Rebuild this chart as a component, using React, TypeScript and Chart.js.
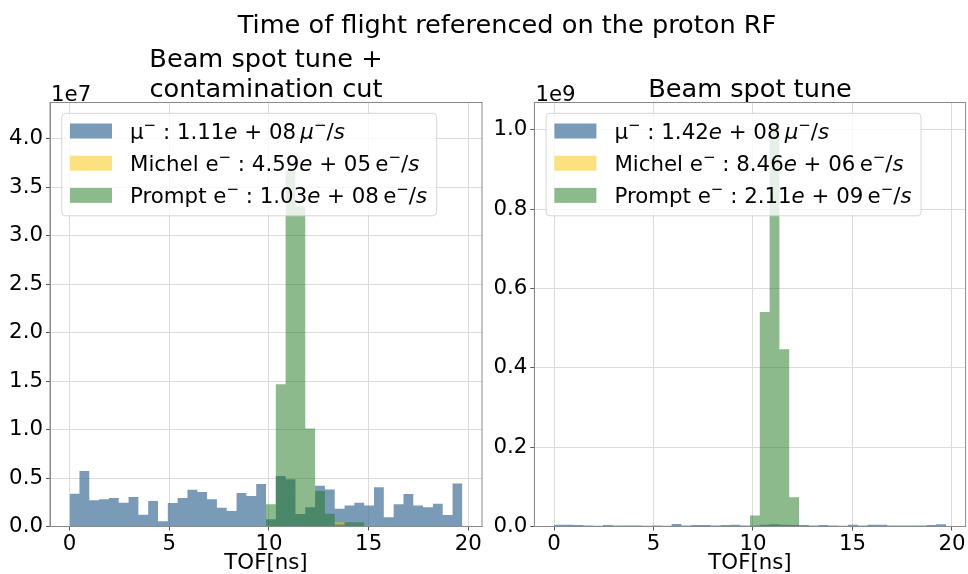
import React, { useEffect, useRef } from 'react';
import { Chart, registerables } from 'chart.js';

Chart.register(...registerables);

const FONT = "'DejaVu Sans', sans-serif";
const FS = 21.33;
const TFS = 25.6;

// ---- data ----
const BIN_START = 0;
const BIN_WIDTH = 0.4925; // ns
const N_BINS = 40;
const binEdges: number[] = Array.from({ length: N_BINS + 1 }, (_, i) => +(BIN_START + i * BIN_WIDTH).toFixed(4));

const xTicks = [0, 5, 10, 15, 20];
const leftYTicks = [0, 0.5, 1.0, 1.5, 2.0, 2.5, 3.0, 3.5, 4.0];
const rightYTicks = [0, 0.2, 0.4, 0.6, 0.8, 1.0];

// left panel, counts in units of 1e7
const leftMuon = [
  0.338, 0.572, 0.270, 0.280, 0.294, 0.245, 0.304, 0.122, 0.263, 0.053,
  0.242, 0.294, 0.380, 0.356, 0.280, 0.194, 0.160, 0.345, 0.314, 0.438,
  0.074, 0.520, 0.487, 0.129, 0.198, 0.420, 0.383, 0.184, 0.218, 0.245,
  0.218, 0.404, 0.095, 0.229, 0.335, 0.218, 0.198, 0.235, 0.119, 0.445,
];
const leftMichel = [
  0, 0, 0, 0, 0, 0, 0, 0, 0, 0,
  0, 0, 0, 0, 0, 0, 0, 0, 0, 0,
  0, 0, 0, 0, 0, 0, 0, 0.045, 0, 0,
  0, 0, 0, 0, 0, 0, 0, 0, 0, 0,
];
const leftPrompt = [
  0, 0, 0, 0, 0, 0, 0, 0, 0, 0,
  0, 0, 0, 0, 0, 0, 0, 0, 0, 0,
  0.229, 1.469, 3.675, 3.310, 1.012, 0.366, 0.132, 0.020, 0.043, 0.043,
  0, 0, 0, 0, 0, 0, 0, 0, 0, 0,
];

// right panel, counts in units of 1e9
const rightMuon = [
  0.0045, 0.0045, 0.0040, 0.0028, 0.0022, 0.0040, 0.0027, 0.0027, 0.0027, 0.0018,
  0.0027, 0.0022, 0.0065, 0.0027, 0.0040, 0.0040, 0.0027, 0.0040, 0.0045, 0.0027,
  0.0027, 0.0045, 0.0054, 0.0045, 0.0036, 0.0036, 0.0027, 0.0036, 0.0027, 0.0018,
  0.0045, 0.0027, 0.0045, 0.0045, 0.0027, 0.0027, 0.0027, 0.0027, 0.0036, 0.0054,
];
const rightMichel = [
  0, 0, 0, 0, 0.0008, 0.0008, 0.0008, 0.0008, 0.0008, 0.0008,
  0, 0, 0, 0, 0, 0, 0, 0, 0, 0,
  0, 0, 0, 0, 0, 0, 0, 0, 0, 0,
  0.0004, 0.0004, 0.0004, 0.0004, 0.0004, 0.0004, 0.0004, 0.0004, 0.0004, 0,
];
const rightPrompt = [
  0, 0, 0, 0, 0, 0, 0, 0, 0, 0,
  0, 0, 0, 0, 0, 0, 0, 0, 0, 0,
  0.028, 0.541, 1.013, 0.447, 0.074, 0.002, 0.001, 0.0005, 0, 0,
  0, 0, 0, 0, 0, 0, 0, 0, 0, 0,
];

const mainTitle = 'Time of flight referenced on the proton RF';
const leftTitle = ['Beam spot tune +', 'contamination cut'];
const rightTitle = ['Beam spot tune'];
const leftExponent = '1e7';
const rightExponent = '1e9';
const xTitle = 'TOF[ns]';

type Seg = { t: string; it?: boolean; sup?: boolean };

const leftLegend: Seg[][] = [
  [{ t: 'μ' }, { t: '−', sup: true }, { t: ' : 1.11' }, { t: 'e', it: true }, { t: ' + 08\u2009' }, { t: 'μ', it: true }, { t: '−', sup: true }, { t: '/' }, { t: 's', it: true }],
  [{ t: 'Michel e' }, { t: '−', sup: true }, { t: ' : 4.59' }, { t: 'e', it: true }, { t: ' + 05\u2009e' }, { t: '−', sup: true }, { t: '/' }, { t: 's', it: true }],
  [{ t: 'Prompt e' }, { t: '−', sup: true }, { t: ' : 1.03' }, { t: 'e', it: true }, { t: ' + 08\u2009e' }, { t: '−', sup: true }, { t: '/' }, { t: 's', it: true }],
];
const rightLegend: Seg[][] = [
  [{ t: 'μ' }, { t: '−', sup: true }, { t: ' : 1.42' }, { t: 'e', it: true }, { t: ' + 08\u2009' }, { t: 'μ', it: true }, { t: '−', sup: true }, { t: '/' }, { t: 's', it: true }],
  [{ t: 'Michel e' }, { t: '−', sup: true }, { t: ' : 8.46' }, { t: 'e', it: true }, { t: ' + 06\u2009e' }, { t: '−', sup: true }, { t: '/' }, { t: 's', it: true }],
  [{ t: 'Prompt e' }, { t: '−', sup: true }, { t: ' : 2.11' }, { t: 'e', it: true }, { t: ' + 09\u2009e' }, { t: '−', sup: true }, { t: '/' }, { t: 's', it: true }],
];

const COLORS = {
  muon: 'rgba(66,112,153,0.7)',
  michel: 'rgba(250,196,0,0.5)',
  prompt: 'rgba(28,118,28,0.5)',
};

function histPoints(values: number[]) {
  const pts = values.map((v, i) => ({ x: binEdges[i], y: v }));
  pts.push({ x: binEdges[N_BINS], y: 0 });
  return pts;
}

function drawSegs(ctx: CanvasRenderingContext2D, segs: Seg[], x: number, baseline: number, draw: boolean) {
  let cx = x;
  for (const s of segs) {
    ctx.font = `${s.it ? 'italic ' : ''}${s.sup ? 15 : FS}px ${FONT}`;
    const y = s.sup ? baseline - 8.5 : baseline;
    if (draw) ctx.fillText(s.t, cx, y);
    cx += ctx.measureText(s.t).width;
  }
  return cx - x;
}

type DecorOpts = {
  title: string[];
  titleBaselines: number[];
  exponent: string;
  legend: Seg[][];
  main?: boolean;
};

function makeDecor(o: DecorOpts) {
  return {
    id: 'decor',
    afterDraw(chart: any) {
      const { ctx, chartArea: a } = chart;
      ctx.save();
      // frame
      ctx.strokeStyle = '#8a8a8a';
      ctx.lineWidth = 1;
      ctx.strokeRect(a.left, a.top, a.right - a.left, a.bottom - a.top);
      ctx.fillStyle = '#000';
      ctx.textBaseline = 'alphabetic';
      // exponent
      ctx.textAlign = 'left';
      ctx.font = `${FS}px ${FONT}`;
      ctx.fillText(o.exponent, a.left + 1, a.top - 2);
      // titles
      ctx.textAlign = 'center';
      ctx.font = `${TFS}px ${FONT}`;
      const cx = (a.left + a.right) / 2;
      o.title.forEach((line, i) => ctx.fillText(line, cx, o.titleBaselines[i]));
      if (o.main) {
        ctx.fillText(mainTitle, 507, 33);
      }
      // legend
      ctx.textAlign = 'left';
      const textX = a.left + 80;
      let maxW = 0;
      o.legend.forEach((segs) => {
        maxW = Math.max(maxW, drawSegs(ctx, segs, 0, 0, false));
      });
      const bx = a.left + 11.7;
      const by = a.top + 10.8;
      const bw = textX + maxW + 9.5 - bx;
      const bh = 102.5;
      ctx.beginPath();
      if ((ctx as any).roundRect) (ctx as any).roundRect(bx, by, bw, bh, 4);
      else ctx.rect(bx, by, bw, bh);
      ctx.fillStyle = 'rgba(255,255,255,0.8)';
      ctx.fill();
      ctx.strokeStyle = 'rgba(204,204,204,0.8)';
      ctx.lineWidth = 1;
      ctx.stroke();
      const cols = [COLORS.muon, COLORS.michel, COLORS.prompt];
      o.legend.forEach((segs, i) => {
        const cy = a.top + 28.5 + i * 32.2;
        ctx.fillStyle = cols[i];
        ctx.fillRect(a.left + 20, cy - 7.5, 42, 15);
        ctx.fillStyle = '#000';
        drawSegs(ctx, segs, textX, cy + 7.5, true);
      });
      ctx.restore();
    },
  };
}

function makeConfig(
  muon: number[], michel: number[], prompt: number[], yTicks: number[], yMax: number,
  padding: any, yWidth: number, decor: any
): any {
  const ds = (values: number[], color: string, order: number) => ({
    data: histPoints(values),
    stepped: true,
    fill: 'origin',
    backgroundColor: color,
    borderColor: 'rgba(0,0,0,0)',
    borderWidth: 0,
    pointRadius: 0,
    pointHoverRadius: 0,
    order,
  });
  return {
    type: 'line',
    data: {
      datasets: [
        ds(muon, COLORS.muon, 3),
        ds(michel, COLORS.michel, 2),
        ds(prompt, COLORS.prompt, 1),
      ],
    },
    options: {
      animation: false,
      responsive: false,
      devicePixelRatio: 1,
      events: [],
      layout: { padding },
      plugins: { legend: { display: false }, title: { display: false }, tooltip: { enabled: false } },
      scales: {
        x: {
          type: 'linear',
          min: -0.985,
          max: 20.685,
          afterBuildTicks: (s: any) => { s.ticks = xTicks.map((v) => ({ value: v })); },
          afterFit: (s: any) => { s.height = 47.5; },
          ticks: {
            autoSkip: false, maxRotation: 0, color: '#000', padding: 1,
            font: { family: FONT, size: FS },
            callback: (v: any) => String(v),
          },
          grid: { color: '#dcdcdc', lineWidth: 1, drawTicks: true, tickLength: 4, tickColor: '#555' },
          border: { display: true, color: '#8a8a8a' },
          title: { display: true, text: xTitle, color: '#000', font: { family: FONT, size: FS, lineHeight: 1.0 }, padding: { top: 0, bottom: 0 } },
        },
        y: {
          type: 'linear',
          min: 0,
          max: yMax,
          afterBuildTicks: (s: any) => { s.ticks = yTicks.map((v) => ({ value: v })); },
          afterFit: (s: any) => { s.width = yWidth; },
          ticks: {
            autoSkip: false, color: '#000', padding: 3,
            font: { family: FONT, size: FS },
            callback: (v: any) => Number(v).toFixed(1),
          },
          grid: { color: '#dcdcdc', lineWidth: 1, drawTicks: true, tickLength: 4, tickColor: '#555' },
          border: { display: true, color: '#8a8a8a' },
        },
      },
    },
    plugins: [decor],
  };
}

export default function App() {
  const leftRef = useRef<HTMLCanvasElement>(null);
  const rightRef = useRef<HTMLCanvasElement>(null);

  useEffect(() => {
    const left = new Chart(
      leftRef.current as HTMLCanvasElement,
      makeConfig(
        leftMuon, leftMichel, leftPrompt, leftYTicks, 4.376,
        { left: 0, top: 102.5, right: 486, bottom: 0 }, 50,
        makeDecor({ title: leftTitle, titleBaselines: [67, 97], exponent: leftExponent, legend: leftLegend, main: true })
      )
    );
    const right = new Chart(
      rightRef.current as HTMLCanvasElement,
      makeConfig(
        rightMuon, rightMichel, rightPrompt, rightYTicks, 1.069,
        { left: 484, top: 102.5, right: 2.4, bottom: 0 }, 50.4,
        makeDecor({ title: rightTitle, titleBaselines: [97], exponent: rightExponent, legend: rightLegend })
      )
    );
    return () => {
      left.destroy();
      right.destroy();
    };
  }, []);

  const cs: React.CSSProperties = { position: 'absolute', left: 0, top: 0, width: 968, height: 574 };
  return (
    <div style={{ position: 'fixed', left: 0, top: 0, width: 968, height: 574, background: '#fff', overflow: 'hidden' }}>
      <canvas ref={leftRef} width={968} height={574} style={cs} />
      <canvas ref={rightRef} width={968} height={574} style={cs} />
    </div>
  );
}
